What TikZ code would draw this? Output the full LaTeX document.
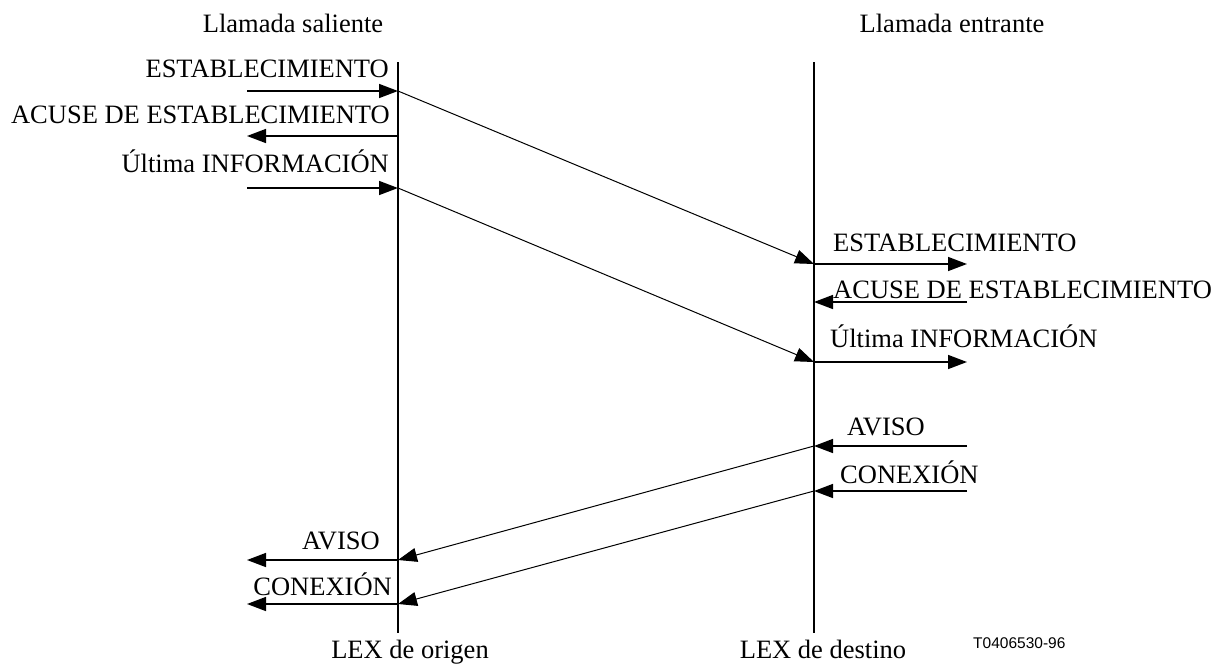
\documentclass[tikz,border=0pt]{standalone}
\usepackage{fontspec}
\setmainfont{Liberation Serif}
\newfontfamily\arialfont{Liberation Sans}
\usetikzlibrary{arrows.meta}
\begin{document}
\begin{tikzpicture}[x=1pt,y=-1pt,
  lbl/.style={inner sep=0pt,font=\fontsize{26.5}{30}\selectfont},
  life/.style={line width=2pt},
  msg/.style={line width=1.5pt,-{Triangle[length=19pt,width=14pt]}},
  dmsg/.style={line width=1pt,-{Triangle[length=19pt,width=14pt]}}]
\useasboundingbox (0,0) rectangle (1221,670);
% lifelines
\coordinate (Ltop) at (398,62);
\coordinate (Lbot) at (398,633);
\coordinate (Rtop) at (814,62);
\coordinate (Rbot) at (814,633);
\draw[life] (Ltop) -- (Lbot);
\draw[life] (Rtop) -- (Rbot);
% headers
\node[lbl,anchor=base] (hs) at (293,32) {Llamada saliente};
\node[lbl,anchor=base] (he) at (952,32) {Llamada entrante};
\node[lbl,anchor=base] (fo) at (410,658) {LEX de origen};
\node[lbl,anchor=base] (fd) at (823,658) {LEX de destino};
\node[inner sep=0pt,anchor=base west,font=\arialfont\fontsize{15.5}{18}\selectfont] (code) at (973,648) {T0406530-96};
% points on left lifeline
\coordinate (L1) at (398,91);
\coordinate (L2) at (398,136);
\coordinate (L3) at (398,188);
\coordinate (L4) at (398,560);
\coordinate (L5) at (398,604);
% points on right lifeline
\coordinate (R1) at (814,264);
\coordinate (R2) at (814,302);
\coordinate (R3) at (814,362);
\coordinate (R4) at (814,446);
\coordinate (R5) at (814,491);
% free ends left
\coordinate (a1) at (247,91);
\coordinate (a2) at (247,136);
\coordinate (a3) at (247,188);
\coordinate (a4) at (247,560);
\coordinate (a5) at (247,604);
% free ends right
\coordinate (b1) at (967,264);
\coordinate (b2) at (967,302);
\coordinate (b3) at (967,362);
\coordinate (b4) at (967,446);
\coordinate (b5) at (967,491);
% left messages
\draw[msg] (a1) -- (L1);
\draw[msg] (L2) -- (a2);
\draw[msg] (a3) -- (L3);
\draw[msg] (L4) -- (a4);
\draw[msg] (L5) -- (a5);
% right messages
\draw[msg] (R1) -- (b1);
\draw[msg] (b2) -- (R2);
\draw[msg] (R3) -- (b3);
\draw[msg] (b4) -- (R4);
\draw[msg] (b5) -- (R5);
% diagonals
\draw[dmsg] (L1) -- (R1);
\draw[dmsg] (L3) -- (R3);
\draw[dmsg] (R4) -- (L4);
\draw[dmsg] (R5) -- (L5);
% left labels
\node[lbl,anchor=base east] (t1) at (389,77) {ESTABLECIMIENTO};
\node[lbl,anchor=base east] (t2) at (390,123) {ACUSE DE ESTABLECIMIENTO};
\node[lbl,anchor=base east] (t3) at (389,172) {Última INFORMACIÓN};
\node[lbl,anchor=base east] (t4) at (380,549) {AVISO};
\node[lbl,anchor=base east] (t5) at (392,595) {CONEXIÓN};
% right labels
\node[lbl,anchor=base west] (u1) at (833,251) {ESTABLECIMIENTO};
\node[lbl,anchor=base west] (u2) at (833,298) {ACUSE DE ESTABLECIMIENTO};
\node[lbl,anchor=base west] (u3) at (830,347) {Última INFORMACIÓN};
\node[lbl,anchor=base west] (u4) at (847,435) {AVISO};
\node[lbl,anchor=base west] (u5) at (840,483) {CONEXIÓN};
\end{tikzpicture}
\end{document}
